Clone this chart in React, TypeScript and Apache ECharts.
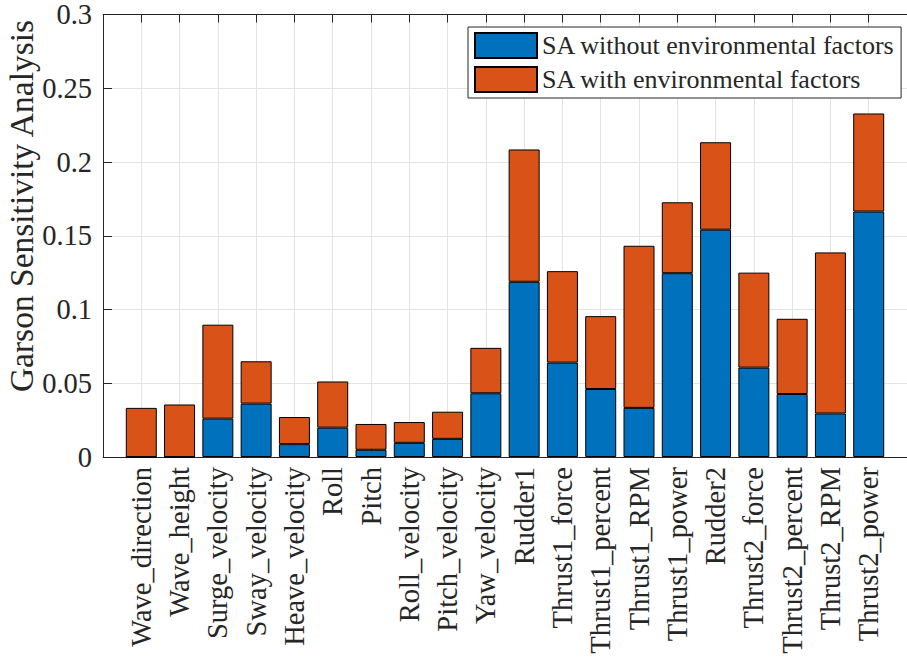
import React, { useEffect, useRef } from "react";
import * as echarts from "echarts";

const categories = [
  "Wave_direction", "Wave_height", "Surge_velocity", "Sway_velocity", "Heave_velocity",
  "Roll", "Pitch", "Roll_velocity", "Pitch_velocity", "Yaw_velocity",
  "Rudder1", "Thrust1_force", "Thrust1_percent", "Thrust1_RPM", "Thrust1_power",
  "Rudder2", "Thrust2_force", "Thrust2_percent", "Thrust2_RPM", "Thrust2_power",
];

// "SA without environmental factors" (blue, bottom segment)
const withoutEnv = [
  0, 0, 0.026, 0.0362, 0.0087, 0.0199, 0.0049, 0.0096, 0.0123, 0.0432,
  0.1188, 0.064, 0.0461, 0.0333, 0.1246, 0.1541, 0.0606, 0.0427, 0.0295, 0.1664,
];

// "SA with environmental factors" (orange, stacked segment on top)
const withEnv = [
  0.0333, 0.0356, 0.0637, 0.0287, 0.0184, 0.0313, 0.0175, 0.0141, 0.0184, 0.0308,
  0.0897, 0.062, 0.0494, 0.1099, 0.0481, 0.0593, 0.0644, 0.051, 0.1092, 0.0665,
];

const yTicks = [0, 0.05, 0.1, 0.15, 0.2, 0.25, 0.3];
const seriesNames = ["SA without environmental factors", "SA with environmental factors"];

const FONT = "Liberation Serif";
const AXIS = "#262626";
const GRID = "#e3e3e3";

export default function App() {
  const ref = useRef<HTMLDivElement>(null);
  useEffect(() => {
    document.body.style.margin = "0";
    const chart = echarts.init(ref.current!, undefined, { renderer: "svg" });
    // padded category list so that the axis spans [0, 21] like the original
    const axisCats = ["", ...categories, ""];
    const pad = (arr: number[]) => ["-", ...arr, "-"];
    const tickStyle = { show: true, inside: true, length: 8, interval: 0, lineStyle: { color: AXIS, width: 1 } };
    chart.setOption({
      animation: false,
      backgroundColor: "#ffffff",
      grid: { left: 103, top: 10, right: -9, bottom: 201, containLabel: false },
      legend: {
        orient: "vertical",
        left: 468,
        top: 27,
        padding: [5, 6, 5, 6],
        itemGap: 7,
        itemWidth: 62,
        itemHeight: 25,
        backgroundColor: "#ffffff",
        borderColor: AXIS,
        borderWidth: 1,
        borderRadius: 0,
        textStyle: { fontFamily: FONT, fontSize: 26, color: AXIS, padding: [0, 0, 0, 0] },
        data: seriesNames,
        icon: "rect",
      },
      xAxis: [
        {
          type: "category",
          data: axisCats,
          boundaryGap: false,
          position: "bottom",
          axisLine: { show: true, lineStyle: { color: AXIS, width: 1 } },
          axisTick: tickStyle,
          splitLine: { show: true, interval: 0, lineStyle: { color: GRID, width: 1 } },
          axisLabel: {
            interval: 0,
            rotate: 90,
            margin: 10,
            fontFamily: FONT,
            fontSize: 28.5,
            color: AXIS,
          },
        },
        {
          type: "category",
          data: axisCats,
          boundaryGap: false,
          position: "top",
          axisLine: { show: true, lineStyle: { color: AXIS, width: 1 } },
          axisTick: tickStyle,
          splitLine: { show: false },
          axisLabel: { show: false },
        },
      ],
      yAxis: {
        type: "value",
        min: 0,
        max: 0.3,
        interval: 0.05,
        axisLine: { show: true, lineStyle: { color: AXIS, width: 1 } },
        axisTick: { show: true, inside: true, length: 9, lineStyle: { color: AXIS } },
        splitLine: { show: true, lineStyle: { color: GRID, width: 1 } },
        axisLabel: {
          margin: 11,
          fontFamily: FONT,
          fontSize: 28.5,
          color: AXIS,
          formatter: (v: number) => {
            const t = yTicks.find((y) => Math.abs(y - v) < 1e-9);
            return String(t ?? v);
          },
        },
      },
      graphic: [
        {
          type: "text",
          x: 21,
          y: 206,
          rotation: Math.PI / 2,
          style: {
            text: "Garson Sensitivity Analysis",
            fontFamily: FONT,
            fontSize: 33.5,
            fill: AXIS,
            align: "center",
            verticalAlign: "middle",
          },
        },
      ],
      series: [
        {
          name: seriesNames[0],
          type: "bar",
          stack: "total",
          barWidth: 31,
          itemStyle: { color: "#0072BD", borderColor: "#000000", borderWidth: 1 },
          data: pad(withoutEnv),
        },
        {
          name: seriesNames[1],
          type: "bar",
          stack: "total",
          barWidth: 31,
          itemStyle: { color: "#D95319", borderColor: "#000000", borderWidth: 1 },
          data: pad(withEnv),
        },
      ],
    });
    return () => chart.dispose();
  }, []);
  return <div ref={ref} style={{ width: 907, height: 658 }} />;
}
